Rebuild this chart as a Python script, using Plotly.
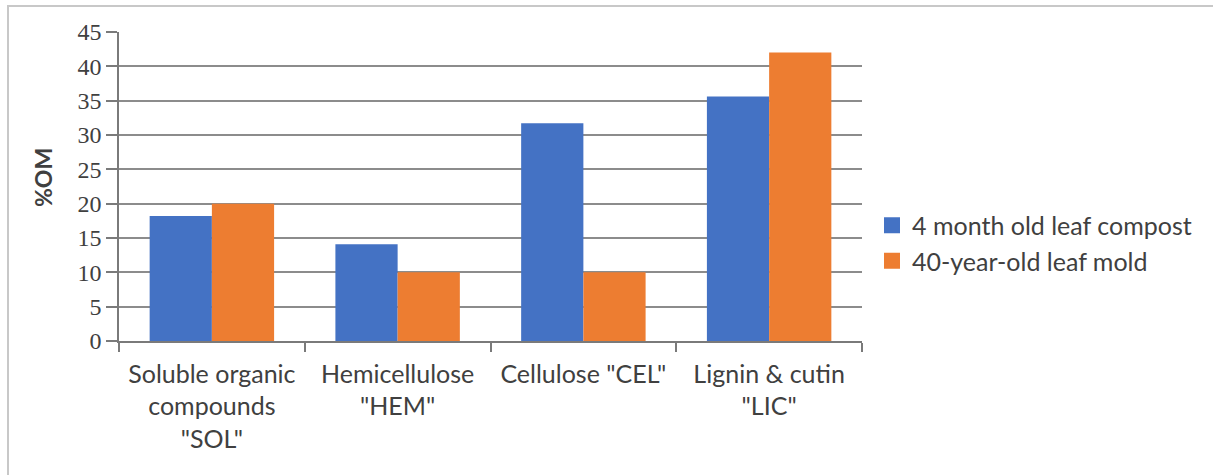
import plotly.graph_objects as go

categories = ["Soluble organic<br>compounds<br>\"SOL\"", "Hemicellulose<br>\"HEM\"",
              "Cellulose \"CEL\"", "Lignin & cutin<br>\"LIC\""]
compost_4month = [18.2, 14.1, 31.7, 35.6]
leafmold_40year = [20.0, 10.0, 10.0, 42.0]
series_names = ["4 month old leaf compost", "40-year-old leaf mold"]
series_colors = ["#4472C4", "#ED7D31"]
y_ticks = [0, 5, 10, 15, 20, 25, 30, 35, 40, 45]

W, H = 1213, 475
L, R, T, B = 119, 862, 32, 341


def px_x(p):
    return (p - L) / (R - L)


def px_y(p):
    return (B - p) / (B - T)


font_family = "Lato, 'Open Sans', sans-serif"
text_color = "#404040"

fig = go.Figure()
for vals, name, col in zip([compost_4month, leafmold_40year], series_names, series_colors):
    fig.add_trace(go.Bar(x=categories, y=vals, name=name, showlegend=False,
                         marker=dict(color=col, line=dict(width=0))))
# legend entries (square swatches)
for name, col in zip(series_names, series_colors):
    fig.add_trace(go.Scatter(x=[None], y=[None], mode="markers", name=name,
                             marker=dict(symbol="square", size=18, color=col),
                             showlegend=True, hoverinfo="skip"))

fig.update_layout(
    width=W, height=H,
    margin=dict(l=L, r=W - R, t=T, b=H - B, pad=0),
    paper_bgcolor="white", plot_bgcolor="white",
    barmode="group", bargap=0.33, bargroupgap=0,
    font=dict(family=font_family, size=25, color=text_color),
    legend=dict(x=px_x(872), y=px_y(243), xanchor="left", yanchor="middle",
                font=dict(size=25, color=text_color), bgcolor="rgba(0,0,0,0)",
                itemwidth=30, tracegroupgap=0, borderwidth=0),
    showlegend=True,
    shapes=[
        dict(type="line", xref="paper", yref="paper", x0=px_x(8), x1=px_x(8),
             y0=px_y(5), y1=px_y(480), line=dict(color="#c8c8c8", width=2)),
        dict(type="line", xref="paper", yref="paper", x0=px_x(7), x1=px_x(1215),
             y0=px_y(6), y1=px_y(6), line=dict(color="#c8c8c8", width=2)),
    ],
    annotations=[
        dict(text="<b>%OM</b>", xref="paper", yref="paper", x=px_x(43), y=px_y(178),
             xanchor="center", yanchor="middle", textangle=-90, showarrow=False,
             font=dict(size=23, color=text_color, family=font_family)),
    ],
)

fig.update_xaxes(
    type="category", tickson="boundaries", ticks="outside", ticklen=9,
    tickcolor="#7a7a7a", tickwidth=1.5,
    showline=True, linecolor="#7a7a7a", linewidth=1.5,
    showgrid=False, tickfont=dict(size=25, color=text_color),
    ticklabelstandoff=10,
)
fig.update_yaxes(
    range=[0, 45], tickvals=y_ticks, ticks="outside", ticklen=11,
    tickcolor="#7a7a7a", tickwidth=1.5,
    showline=True, linecolor="#7a7a7a", linewidth=1.5,
    showgrid=True, gridcolor="#8c8c8c", gridwidth=1.5,
    zeroline=False,
    tickfont=dict(size=24, color=text_color, family="'Liberation Serif', serif"),
)

fig.write_html("out.html", config={"displayModeBar": False},
               post_script="document.body.style.margin='0';")
